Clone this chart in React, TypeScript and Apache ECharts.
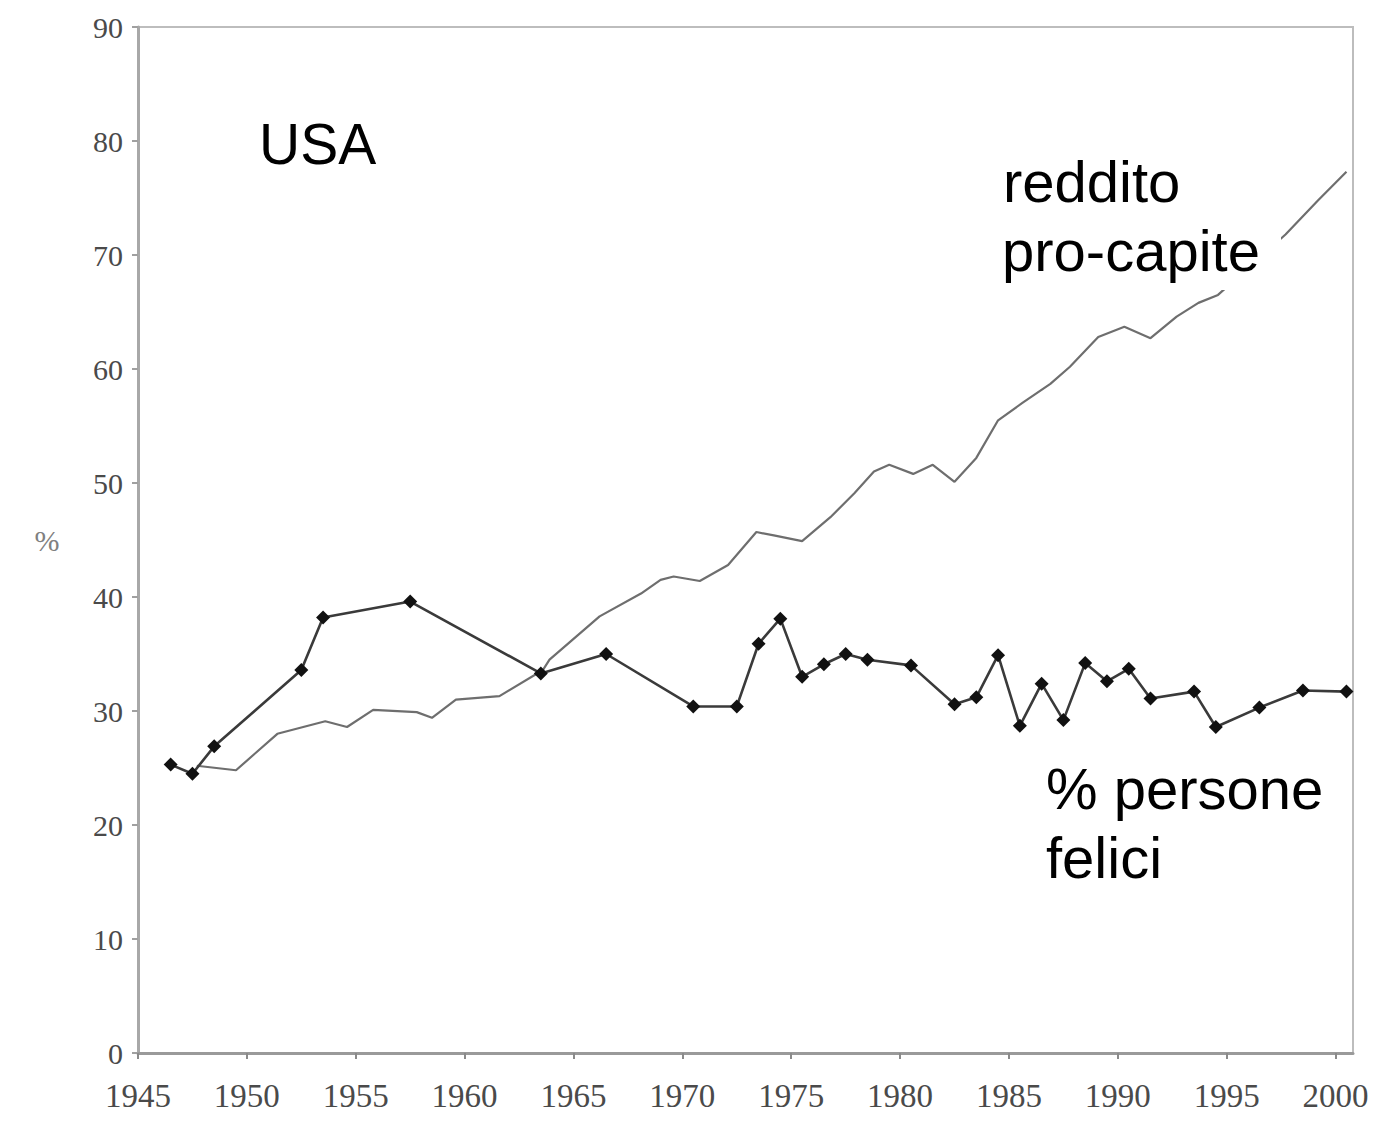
import React, { useEffect, useRef } from "react";
import * as echarts from "echarts";

// Asse X: anni, asse Y: percentuale
const yTickValues = [0, 10, 20, 30, 40, 50, 60, 70, 80, 90];
const xTickYears = [1945, 1950, 1955, 1960, 1965, 1970, 1975, 1980, 1985, 1990, 1995, 2000];

// % persone felici (USA)
const happyYears = [
  1946.5, 1947.5, 1948.5, 1952.5, 1953.5, 1957.5, 1963.5, 1966.5, 1970.5, 1972.5,
  1973.5, 1974.5, 1975.5, 1976.5, 1977.5, 1978.5, 1980.5, 1982.5, 1983.5, 1984.5,
  1985.5, 1986.5, 1987.5, 1988.5, 1989.5, 1990.5, 1991.5, 1993.5, 1994.5, 1996.5,
  1998.5, 2000.5,
];
const happyValues = [
  25.3, 24.5, 26.9, 33.6, 38.2, 39.6, 33.3, 35.0, 30.4, 30.4,
  35.9, 38.1, 33.0, 34.1, 35.0, 34.5, 34.0, 30.6, 31.2, 34.9,
  28.7, 32.4, 29.2, 34.2, 32.6, 33.7, 31.1, 31.7, 28.6, 30.3,
  31.8, 31.7,
];

// reddito pro-capite (USA)
const incomeYears = [
  1947.7, 1949.5, 1951.4, 1953.6, 1954.6, 1955.8, 1957.8, 1958.5, 1959.6, 1961.6,
  1963.6, 1963.9, 1966.2, 1968.1, 1969.0, 1969.6, 1970.8, 1972.1, 1973.4, 1974.2,
  1975.5, 1976.8, 1977.9, 1978.8, 1979.5, 1980.6, 1981.5, 1982.5, 1983.5, 1984.5,
  1985.6, 1986.9, 1987.8, 1989.1, 1990.3, 1991.5, 1992.7, 1993.7, 1994.6, 1997.7,
  1999.2, 2000.5,
];
const incomeValues = [
  25.2, 24.8, 28.0, 29.1, 28.6, 30.1, 29.9, 29.4, 31.0, 31.3,
  33.6, 34.5, 38.3, 40.3, 41.5, 41.8, 41.4, 42.8, 45.7, 45.4,
  44.9, 47.0, 49.1, 51.0, 51.6, 50.8, 51.6, 50.1, 52.2, 55.5,
  57.0, 58.7, 60.2, 62.8, 63.7, 62.7, 64.6, 65.8, 66.5, 71.8,
  74.8, 77.3,
];

const labelFont = "'Liberation Serif', 'Times New Roman', serif";
const textFont = "'Liberation Sans', Arial, sans-serif";

export default function App() {
  const ref = useRef<HTMLDivElement>(null);

  useEffect(() => {
    if (!ref.current) return;
    const chart = echarts.init(ref.current, undefined, { renderer: "svg" });

    const happyData = happyYears.map((y, i) => [y, happyValues[i]]);
    const incomeData = incomeYears.map((y, i) => [y, incomeValues[i]]);

    const option: any = {
      animation: false,
      backgroundColor: "#ffffff",
      grid: {
        left: 138,
        right: 33,
        top: 27,
        bottom: 77,
        show: true,
        borderColor: "#bdbdbd",
        borderWidth: 2,
        backgroundColor: "transparent",
        containLabel: false,
        outerBoundsMode: "none",
      },
      xAxis: {
        type: "value",
        min: 1945,
        max: 2000.8,
        interval: 5,
        splitLine: { show: false },
        axisLine: { show: true, onZero: false, lineStyle: { color: "#9a9a9a", width: 3 } },
        axisTick: { show: true, length: 6, lineStyle: { color: "#8a8a8a", width: 2 } },
        axisLabel: {
          margin: 26,
          color: "#4a4a4a",
          fontFamily: labelFont,
          fontSize: 33,
          showMaxLabel: false,
          formatter: (v: number) => (xTickYears.indexOf(v) >= 0 ? String(v) : ""),
        },
      },
      yAxis: {
        type: "value",
        min: 0,
        max: 90,
        interval: 10,
        splitLine: { show: false },
        axisLine: { show: true, onZero: false, lineStyle: { color: "#a8a8a8", width: 3 } },
        axisTick: { show: true, length: 6, lineStyle: { color: "#a0a0a0", width: 2 } },
        axisLabel: {
          margin: 15,
          color: "#4a4a4a",
          fontFamily: labelFont,
          fontSize: 30,
          formatter: (v: number) => (yTickValues.indexOf(v) >= 0 ? String(v) : ""),
        },
        name: "%",
        nameLocation: "middle",
        nameRotate: 0,
        nameGap: 91,
        nameTextStyle: {
          color: "#808080",
          fontFamily: labelFont,
          fontSize: 30,
          align: "center",
          verticalAlign: "middle",
        },
      },
      series: [
        {
          name: "reddito pro-capite",
          type: "line",
          data: incomeData,
          showSymbol: false,
          symbol: "none",
          z: 2,
          lineStyle: { color: "#6e6e6e", width: 2.2 },
        },
        {
          name: "% persone felici",
          type: "line",
          data: happyData,
          symbol: "diamond",
          symbolSize: 14,
          z: 3,
          itemStyle: { color: "#111111" },
          lineStyle: { color: "#3a3a3a", width: 2.6 },
        },
      ],
      graphic: [
        {
          type: "rect",
          z: 50,
          shape: { x: 1000, y: 228, width: 281, height: 62 },
          style: { fill: "#ffffff" },
        },
        {
          type: "text",
          z: 60,
          x: 259,
          y: 144,
          style: { text: "USA", fontFamily: textFont, fontSize: 57, fill: "#000", verticalAlign: "middle", align: "left" },
        },
        {
          type: "text",
          z: 60,
          x: 1003,
          y: 181,
          style: { text: "reddito", fontFamily: textFont, fontSize: 58, fill: "#000", verticalAlign: "middle", align: "left" },
        },
        {
          type: "text",
          z: 60,
          x: 1002,
          y: 250,
          style: { text: "pro-capite", fontFamily: textFont, fontSize: 58, fill: "#000", verticalAlign: "middle", align: "left" },
        },
        {
          type: "text",
          z: 60,
          x: 1046,
          y: 788,
          style: { text: "% persone", fontFamily: textFont, fontSize: 58, fill: "#000", verticalAlign: "middle", align: "left" },
        },
        {
          type: "text",
          z: 60,
          x: 1046,
          y: 857,
          style: { text: "felici", fontFamily: textFont, fontSize: 58, fill: "#000", verticalAlign: "middle", align: "left" },
        },
      ],
    };

    chart.setOption(option);
    return () => {
      chart.dispose();
    };
  }, []);

  return (
    <div
      ref={ref}
      style={{ position: "fixed", left: 0, top: 0, width: 1386, height: 1130, background: "#fff" }}
    />
  );
}
